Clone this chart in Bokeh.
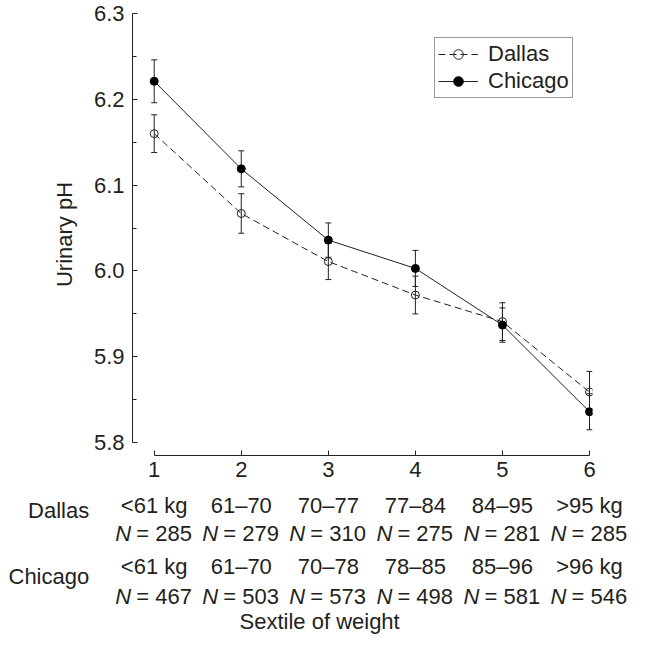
from bokeh.plotting import figure
from bokeh.models import (ColumnDataSource, Whisker, TeeHead, FixedTicker, PrintfTickFormatter,
                          Legend, LegendItem, Range1d)
from bokeh.core.properties import value
from bokeh.embed import file_html
from bokeh.resources import INLINE

# ---- data ----
sextiles = [1, 2, 3, 4, 5, 6]
dallas_ph = [6.160, 6.067, 6.011, 5.972, 5.941, 5.859]
dallas_err = [0.022, 0.023, 0.021, 0.022, 0.022, 0.024]
chicago_ph = [6.221, 6.119, 6.036, 6.003, 5.937, 5.836]
chicago_err = [0.025, 0.021, 0.020, 0.021, 0.020, 0.021]
dallas_weight = ["<61 kg", "61\u201370", "70\u201377", "77\u201384", "84\u201395", ">95 kg"]
dallas_n = [285, 279, 310, 275, 281, 285]
chicago_weight = ["<61 kg", "61\u201370", "70\u201378", "78\u201385", "85\u201396", ">96 kg"]
chicago_n = [467, 503, 573, 498, 581, 546]
y_ticks = [5.8, 5.9, 6.0, 6.1, 6.2, 6.3]
y_minor = [5.85, 5.95, 6.05, 6.15, 6.25]

FONT = "Liberation Sans"
FS = "22px"
TXT = "#231f20"
LC = "#222222"

# ---------------- main plot ----------------
p = figure(width=636, height=487,
           x_range=Range1d(0.7507, 6.0343), y_range=Range1d(5.78502, 6.3),
           output_backend="svg", toolbar_location=None,
           min_border_left=132, min_border_right=44, min_border_top=13, min_border_bottom=32)
p.xgrid.visible = False
p.ygrid.visible = False
p.outline_line_color = None

src_d = ColumnDataSource(dict(x=sextiles, y=dallas_ph,
                              lo=[v - e for v, e in zip(dallas_ph, dallas_err)],
                              hi=[v + e for v, e in zip(dallas_ph, dallas_err)]))
src_c = ColumnDataSource(dict(x=sextiles, y=chicago_ph,
                              lo=[v - e for v, e in zip(chicago_ph, chicago_err)],
                              hi=[v + e for v, e in zip(chicago_ph, chicago_err)]))

for src in (src_d, src_c):
    w = Whisker(source=src, base="x", upper="hi", lower="lo", line_color=LC, line_width=1,
                upper_head=TeeHead(size=6, line_color=LC, line_width=1),
                lower_head=TeeHead(size=6, line_color=LC, line_width=1))
    p.add_layout(w)

d_line = p.line("x", "y", source=src_d, line_dash="7 4", line_color=LC, line_width=1)
d_pts = p.scatter("x", "y", source=src_d, marker="circle", size=8, fill_color=None,
                  line_color=LC, line_width=1)
c_line = p.line("x", "y", source=src_c, line_color=LC, line_width=1)
c_pts = p.scatter("x", "y", source=src_c, marker="circle", size=8, fill_color="black",
                  line_color="black", line_width=1)

for ax in (p.xaxis[0], p.yaxis[0]):
    ax.axis_line_color = LC
    ax.axis_line_width = 1
    ax.major_tick_line_color = LC
    ax.major_tick_in = 5
    ax.major_tick_out = 0
    ax.major_label_text_font = FONT
    ax.major_label_text_font_size = FS
    ax.major_label_text_color = TXT

p.xaxis.ticker = FixedTicker(ticks=sextiles)
p.xaxis.bounds = (1, 6)
p.xaxis.minor_tick_line_color = None
p.xaxis.major_label_standoff = 6

p.yaxis.ticker = FixedTicker(ticks=y_ticks, minor_ticks=y_minor)
p.yaxis.formatter = PrintfTickFormatter(format="%.1f")
p.yaxis.bounds = (5.8, 6.3)
p.yaxis.minor_tick_line_color = LC
p.yaxis.minor_tick_in = 4
p.yaxis.minor_tick_out = 0
p.yaxis.major_label_standoff = 8
p.yaxis.axis_label = "Urinary pH"
p.yaxis.axis_label_text_font = FONT
p.yaxis.axis_label_text_font_size = FS
p.yaxis.axis_label_text_font_style = "normal"
p.yaxis.axis_label_text_color = TXT
p.yaxis.axis_label_standoff = 14

legend = Legend(items=[LegendItem(label="Dallas", renderers=[d_line, d_pts]),
                       LegendItem(label="Chicago", renderers=[c_line, c_pts])],
                location=(302, 357), margin=0, padding=3, spacing=1,
                glyph_width=40, glyph_height=24, label_height=24, label_standoff=10,
                label_text_font=FONT, label_text_font_size=FS, label_text_color=TXT,
                border_line_color="#333333", border_line_width=1,
                background_fill_color="white", background_fill_alpha=1)
p.add_layout(legend)

# ---------------- table of sextile descriptions (same x scale) ----------------
px_per_unit = (6.0343 - 0.7507) / 460.0
x0 = 0.7507 - 132 * px_per_unit
x1 = x0 + 636 * px_per_unit
q = figure(width=636, height=147, x_range=Range1d(x0, x1), y_range=Range1d(147, 0),
           output_backend="svg", toolbar_location=None,
           min_border_left=0, min_border_right=0, min_border_top=0, min_border_bottom=0,
           x_axis_type=None, y_axis_type=None)
q.xgrid.visible = False
q.ygrid.visible = False
q.outline_line_color = None

tbl = ColumnDataSource(dict(x=sextiles, dw=dallas_weight, cw=chicago_weight,
                            dn=["= %d" % n for n in dallas_n],
                            cn=["= %d" % n for n in chicago_n],
                            N=["N"] * len(sextiles)))

common = dict(text_font=value(FONT), text_font_size=value(FS), text_color=TXT,
              text_baseline="middle")
q.text(x="x", y=18, text="dw", source=tbl, text_align="center", **common)
q.text(x="x", y=46, text="N", source=tbl, text_align="left", x_offset=-39,
       text_font_style="italic", **common)
q.text(x="x", y=46, text="dn", source=tbl, text_align="left", x_offset=-18, **common)
q.text(x="x", y=79, text="cw", source=tbl, text_align="center", **common)
q.text(x="x", y=109, text="N", source=tbl, text_align="left", x_offset=-39,
       text_font_style="italic", **common)
q.text(x="x", y=109, text="cn", source=tbl, text_align="left", x_offset=-18, **common)

q.text(x=[sextiles[0]] * 2, y=[23, 89], text=["Dallas", "Chicago"], text_align="right",
       x_offset=-65, **common)
q.text(x=[2.9], y=[134], text=["Sextile of weight"], text_align="center", **common)

open("out.html", "w").write(file_html([p, q], INLINE))
